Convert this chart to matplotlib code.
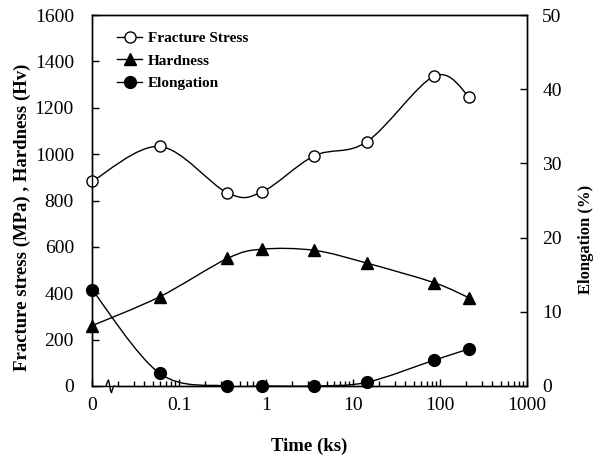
import numpy as np
import matplotlib.pyplot as plt
from matplotlib.path import Path
from matplotlib.patches import PathPatch
from matplotlib.lines import Line2D
from matplotlib.ticker import FixedLocator, LogLocator, NullFormatter

# time in ks, first point (t = 0) drawn at 0.01 on the log axis
tiempo = [0.01, 0.06, 0.36, 0.9, 3.6, 14.4, 86.4, 216]
fractura = [882, 1033, 833, 837, 993, 1053, 1337, 1248]
dureza = [260, 385, 550, 590, 585, 530, 445, 380]
elongacion = [13.0, 1.7, 0.0, 0.0, 0.0, 0.5, 3.5, 5.0]

xticks = [0.01, 0.1, 1, 10, 100, 1000]
xticklabels = ["0", "0.1", "1", "10", "100", "1000"]

plt.rcParams['font.family'] = ['Liberation Serif', 'DejaVu Serif']


def curva_suave(ax, x, y, **kw):
    """Linha suavizada tipo Excel (Bezier) calculada no espaco log10(x)."""
    u = np.log10(x)
    y = np.asarray(y, dtype=float)
    n = len(u)
    verts = [(x[0], y[0])]
    codes = [Path.MOVETO]
    for i in range(n - 1):
        a = max(i - 1, 0)
        b = min(i + 2, n - 1)
        c1u = u[i] + (u[i + 1] - u[a]) / 6
        c1y = y[i] + (y[i + 1] - y[a]) / 6
        c2u = u[i + 1] - (u[b] - u[i]) / 6
        c2y = y[i + 1] - (y[b] - y[i]) / 6
        verts += [(10 ** c1u, c1y), (10 ** c2u, c2y), (x[i + 1], y[i + 1])]
        codes += [Path.CURVE4] * 3
    ax.add_patch(PathPatch(Path(verts, codes), facecolor='none', **kw))


fig = plt.figure(figsize=(5.97, 4.58), dpi=100)
ax = fig.add_axes([92 / 597, 72 / 458, 435 / 597, 371 / 458])
ax2 = ax.twinx()

curva_suave(ax, tiempo, fractura, edgecolor='black', lw=1.0)
curva_suave(ax, tiempo, dureza, edgecolor='black', lw=1.0)
curva_suave(ax2, tiempo, elongacion, edgecolor='black', lw=1.0)

ax.plot(tiempo, fractura, ls='none', marker='o', ms=8, mfc='white', mec='black', mew=1.0, clip_on=False, zorder=5)
ax.plot(tiempo, dureza, ls='none', marker='^', ms=8.5, mfc='black', mec='black', clip_on=False, zorder=5)
ax2.plot(tiempo, elongacion, ls='none', marker='o', ms=8.5, mfc='black', mec='black', clip_on=False, zorder=5)

ax.set_xscale('log')
ax.set_xlim(0.01, 1000)
ax.set_ylim(0, 1600)
ax2.set_ylim(0, 50)
ax.xaxis.set_major_locator(FixedLocator(xticks))
ax.set_xticklabels(xticklabels)
ax.xaxis.set_minor_locator(LogLocator(base=10, subs=np.arange(2, 10)))
ax.xaxis.set_minor_formatter(NullFormatter())
ax.set_yticks(np.arange(0, 1601, 200))
ax2.set_yticks(np.arange(0, 51, 10))

ax.tick_params(axis='x', which='major', direction='in', length=5, width=1, labelsize=14, pad=8)
ax.tick_params(axis='x', which='minor', direction='in', length=3.5, width=1)
ax.tick_params(axis='y', direction='in', length=5, width=1, labelsize=14, pad=13)
ax2.tick_params(axis='y', direction='in', length=5, width=1, labelsize=14, pad=11)

for a in (ax, ax2):
    for s in a.spines.values():
        s.set_linewidth(1.0)

ax.set_xlabel("Time (ks)", fontsize=13.5, fontweight='bold')
ax.set_ylabel("Fracture stress (MPa) , Hardness (Hv)", fontsize=13.5, fontweight='bold')
ax2.set_ylabel("Elongation (%)", fontsize=12, fontweight='bold')
ax.xaxis.set_label_coords(0.5, -0.14)
ax.yaxis.set_label_coords(-0.14, 0.455)
ax2.yaxis.set_label_coords(1.117, 0.394)

# corte do eixo x perto do zero
ax.plot([0.033, 0.052], [0, 0], color='white', lw=2.5, transform=ax.transAxes, clip_on=False, zorder=6)
bx = [0.0322, 0.0356, 0.0380, 0.0402, 0.0425, 0.0448, 0.0472, 0.0505, 0.0528]
by = [0.0, 0.012, 0.016, 0.004, -0.012, -0.018, -0.008, 0.0, 0.0]
ax.plot(bx, by, color='black', lw=1.0, transform=ax.transAxes, clip_on=False, zorder=7)

handles = [
    Line2D([], [], color='black', lw=1.0, marker='o', ms=8, mfc='white', mec='black'),
    Line2D([], [], color='black', lw=1.0, marker='^', ms=8.5, mfc='black'),
    Line2D([], [], color='black', lw=1.0, marker='o', ms=8.5, mfc='black'),
]
ax.legend(handles, ["Fracture Stress", "Hardness", "Elongation"], loc='upper left',
          bbox_to_anchor=(0.027, 0.993), frameon=False, handlelength=1.6, handletextpad=0.4,
          labelspacing=0.58, prop={'weight': 'bold', 'size': 11})

fig.savefig("out.png", dpi=100)
